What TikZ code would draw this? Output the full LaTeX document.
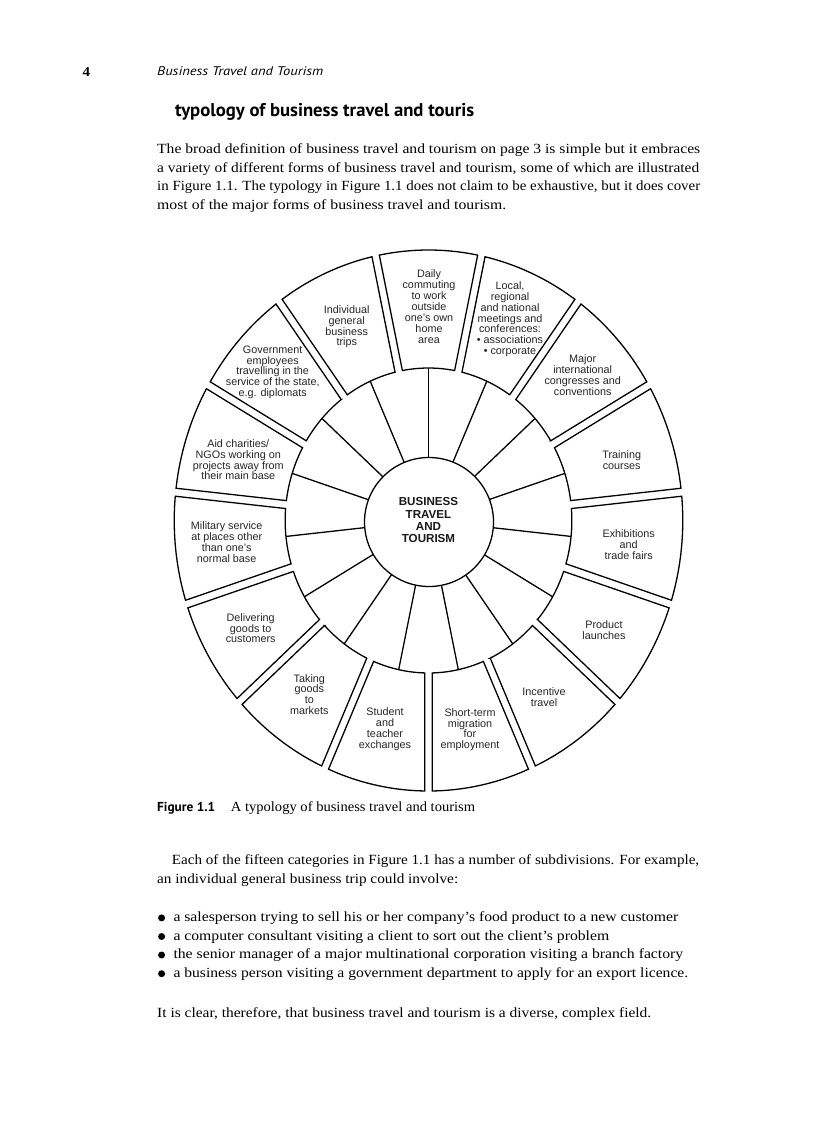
\documentclass[tikz,border=0pt]{standalone}
\usepackage{fontspec}
\setmainfont{Liberation Serif}
\newfontfamily\hsans{PT Sans}
\newfontfamily\lsans{Liberation Sans}
\usepackage{graphicx}
\newcommand\txtline[5][]{\node[anchor=base west,inner sep=0pt,#1] at (#2,#3) {\resizebox{#4pt}{\height}{#5}};}
\tikzset{
  body/.style={font=\fontsize{14}{18}\selectfont},
  ring/.style={draw=black,line width=1.3pt,line join=miter},
  lab/.style={align=center,inner sep=0pt,text=black!85,font=\lsans\fontsize{10.8}{10.9}\selectfont},
  hub/.style={align=center,inner sep=0pt,text=black!90,font=\lsans\bfseries\fontsize{11.6}{12.4}\selectfont},
}
\begin{document}
\begin{tikzpicture}[x=1pt,y=-1pt]
\fill[white] (0,0) rectangle (816,1123);
\useasboundingbox (0,0) rectangle (816,1123);

% running head
\txtline[name=pno,font=\bfseries\fontsize{13.5}{15}\selectfont]{82.5}{76.5}{7.5}{4}
\txtline[name=rh,font=\hsans\itshape\fontsize{12.5}{14}\selectfont]{157}{76}{166}{Business Travel and Tourism}
% heading
\txtline[name=head,font=\hsans\bfseries\fontsize{18.5}{20}\selectfont]{175}{117}{299}{typology of business travel and touris}
% paragraph 1
\txtline[name=p1,body]{157}{153.5}{543}{The broad definition of business travel and tourism on page 3 is simple but it embraces}
\txtline[name=p2,body]{157}{172.2}{542}{a variety of different forms of business travel and tourism, some of which are illustrated}
\txtline[name=p3,body]{157}{190.8}{543}{in Figure 1.1. The typology in Figure 1.1 does not claim to be exhaustive, but it does cover}
\txtline[name=p4,body]{157}{209.3}{349}{most of the major forms of business travel and tourism.}

% ---------------- diagram ----------------
\def\Rii{152.5}
\def\Riii{270.5}
\def\dg{4}
\begin{scope}[shift={(428.5,520.5)},xscale=0.94,yscale=-1]
  \foreach \k in {0,...,14}{
    \pgfmathsetmacro\c{90-24*\k}
    \draw[ring] (\c:45) -- (\c:\Rii);
    \pgfmathsetmacro\ai{\c-12+asin(\dg/\Rii)}
    \pgfmathsetmacro\aii{\c-12+asin(\dg/\Riii)}
    \pgfmathsetmacro\aiii{\c+12-asin(\dg/\Riii)}
    \pgfmathsetmacro\aiv{\c+12-asin(\dg/\Rii)}
    \draw[ring] (\ai:\Rii) -- (\aii:\Riii)
       arc[start angle=\aii,end angle=\aiii,radius=\Riii]
       -- (\aiv:\Rii)
       arc[start angle=\aiv,end angle=\ai,radius=\Rii] -- cycle;
  }
\end{scope}
\draw[ring,fill=white] (429,522) circle[radius=64.5];

\node[hub] (hubtxt) at (428.5,520.3) {BUSINESS\\TRAVEL\\AND\\TOURISM};
\node[lab] (daily) at (429,306.5) {Daily\\commuting\\to work\\outside\\one’s own\\home\\area};
\node[lab] (local) at (510,319.3) {Local,\\regional\\and national\\meetings and\\conferences:\\• associations\\• corporate};
\node[lab] (major) at (582.7,375.3) {Major\\international\\congresses and\\conventions};
\node[lab] (training) at (621.7,460.5) {Training\\courses};
\node[lab] (exhib) at (628.7,544.5) {Exhibitions\\and\\trade fairs};
\node[lab] (product) at (604,630.5) {Product\\launches};
\node[lab] (incent) at (544,697.5) {Incentive\\travel};
\node[lab] (short) at (470,729.7) {Short-term\\migration\\for\\employment};
\node[lab] (student) at (385,729) {Student\\and\\teacher\\exchanges};
\node[lab] (taking) at (309.3,694.5) {Taking\\goods\\to\\markets};
\node[lab] (deliver) at (250.7,628.2) {Delivering\\goods to\\customers};
\node[lab] (military) at (226.7,542.2) {Military service\\at places other\\than one’s\\normal base};
\node[lab] (aid) at (238.3,459.7) {Aid charities/\\NGOs working on\\projects away from\\their main base};
\node[lab] (govt) at (272.7,372.3) {Government\\employees\\travelling in the\\service of the state,\\e.g. diplomats};
\node[lab] (indiv) at (346.7,326.8) {Individual\\general\\business\\trips};

% caption
\txtline[name=figlab,font=\hsans\bfseries\fontsize{13}{15}\selectfont]{157}{811.7}{58}{Figure 1.1}
\txtline[name=figcap,body]{230.7}{811.7}{244.3}{A typology of business travel and tourism}

% paragraph 2
\txtline[name=q1,body]{171.7}{864}{527.3}{Each of the fifteen categories in Figure 1.1 has a number of subdivisions. For example,}
\txtline[name=q2,body]{157}{883.3}{301}{an individual general business trip could involve:}

% bullets
\foreach \yy in {921.7,940.3,958.8,977.5}{
  \fill (161.6,\yy-3.8) circle[radius=3.5];
}
\txtline[name=b1,body]{173.3}{921.7}{504.7}{a salesperson trying to sell his or her company’s food product to a new customer}
\txtline[name=b2,body]{173.3}{940.3}{435.7}{a computer consultant visiting a client to sort out the client’s problem}
\txtline[name=b3,body]{173.3}{958.8}{509.7}{the senior manager of a major multinational corporation visiting a branch factory}
\txtline[name=b4,body]{173.3}{977.5}{514.7}{a business person visiting a government department to apply for an export licence.}

\txtline[name=last,body]{157}{1017.3}{494}{It is clear, therefore, that business travel and tourism is a diverse, complex field.}
\end{tikzpicture}
\end{document}
